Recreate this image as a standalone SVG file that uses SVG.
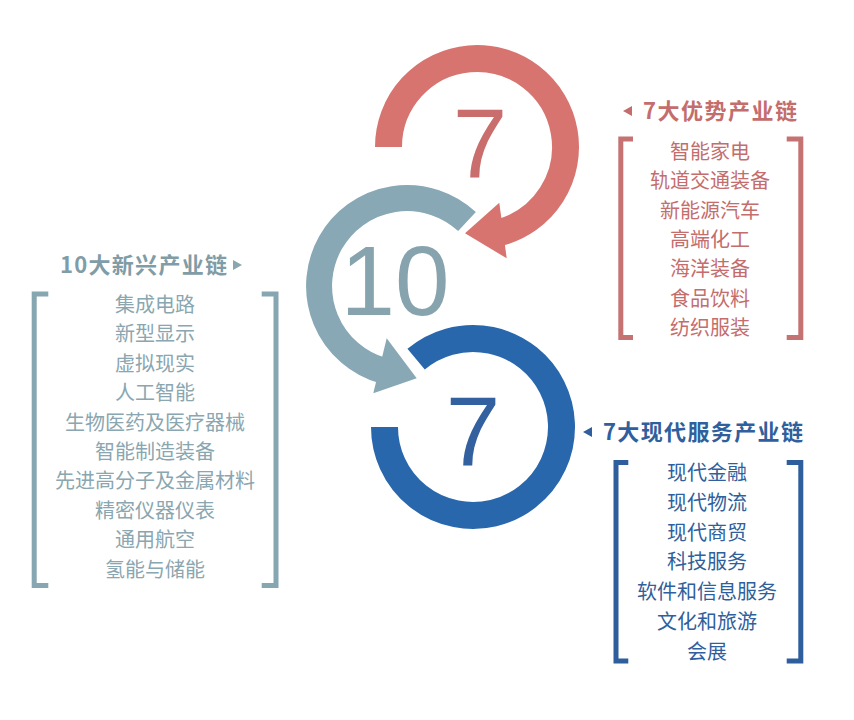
<svg xmlns="http://www.w3.org/2000/svg" width="854" height="720" viewBox="0 0 854 720">
<style>
.ring{fill:none;stroke-linecap:butt}
.big{font-family:"Liberation Sans",Arial,sans-serif;font-size:98px;text-anchor:middle}
.hdr{font-family:"Noto Sans CJK SC","Noto Sans",sans-serif;font-size:22px;font-weight:bold}
.item{font-family:"Noto Sans CJK SC","Noto Sans",sans-serif;font-size:20px;text-anchor:middle}
.br{fill:none;stroke-width:5;stroke-linecap:butt;stroke-linejoin:miter}
.red .ring{stroke:#d8746f}
.red .arrow{fill:#d8746f}
.red .big{fill:#c96e6c}
.red .hdr,.red .item,.red .tri{fill:#c46d6d}
.red .br{stroke:#c57372}
.teal .ring{stroke:#87a8b4}
.teal .arrow{fill:#87a8b4}
.teal .big{fill:#86a3ae}
.teal .hdr{fill:#7f9ca7}
.teal .item,.teal .tri{fill:#8aa6b0}
.teal .br{stroke:#86a6b1}
.blue .ring{stroke:#2967ad}
.blue .big{fill:#3361a0}
.blue .hdr,.blue .item,.blue .tri{fill:#2f5f9c}
.blue .br{stroke:#2e5f9c}
</style>
<rect width="854" height="720" fill="#ffffff"/>

<g id="ring-blue" class="blue">
  <path class="ring" stroke-width="27" d="M416.1,359.2 A88.5,88.5 0 1 1 384.5,427"/>
  <text class="big" x="473" y="465">7</text>
</g>

<g id="ring-teal" class="teal">
  <path class="ring" stroke-width="26" d="M467,221.6 A88,88 0 1 0 382.7,370.6"/>
  <text class="big" x="395" y="315">10</text>
</g>

<g id="ring-red" class="red">
  <path class="ring" stroke-width="27" d="M388.5,147 A88.5,88.5 0 1 1 499.9,232.5"/>
  <text class="big" x="480" y="177">7</text>
</g>

<g id="connectors">
  <polygon class="arrow" fill="#d8746f" points="465,233.3 499.3,202.7 506.7,258.3"/>
  <polygon class="arrow" fill="#87a8b4" points="416.7,378.3 386.7,338.3 373.3,393.3"/>
</g>

<g id="list-red" class="red">
  <polygon class="tri" points="623,111 632,106 632,116"/>
  <text class="hdr" x="643" y="119" textLength="154" lengthAdjust="spacing">7大优势产业链</text>
  <path class="br" d="M633,139 H620.8 V337.5 H633"/>
  <path class="br" d="M786.7,139 H800.8 V337.5 H786.7"/>
  <text class="item" x="710" y="159">智能家电</text>
  <text class="item" x="710" y="188.3">轨道交通装备</text>
  <text class="item" x="710" y="217.6">新能源汽车</text>
  <text class="item" x="710" y="246.9">高端化工</text>
  <text class="item" x="710" y="276.2">海洋装备</text>
  <text class="item" x="710" y="305.5">食品饮料</text>
  <text class="item" x="710" y="334.8">纺织服装</text>
</g>

<g id="list-teal" class="teal">
  <text class="hdr" x="60" y="273" textLength="167" lengthAdjust="spacing">10大新兴产业链</text>
  <polygon class="tri" points="233,260 242,265 233,270"/>
  <path class="br" d="M48.3,294 H34.2 V585.5 H48.3"/>
  <path class="br" d="M261.7,294 H276 V585.5 H261.7"/>
  <text class="item" x="155" y="312">集成电路</text>
  <text class="item" x="155" y="341.4">新型显示</text>
  <text class="item" x="155" y="370.8">虚拟现实</text>
  <text class="item" x="155" y="400.2">人工智能</text>
  <text class="item" x="155" y="429.6">生物医药及医疗器械</text>
  <text class="item" x="155" y="459">智能制造装备</text>
  <text class="item" x="155" y="488.4">先进高分子及金属材料</text>
  <text class="item" x="155" y="517.8">精密仪器仪表</text>
  <text class="item" x="155" y="547.2">通用航空</text>
  <text class="item" x="155" y="576.6">氢能与储能</text>
</g>

<g id="list-blue" class="blue">
  <polygon class="tri" points="583,432 592,427 592,437"/>
  <text class="hdr" x="603" y="440" textLength="200" lengthAdjust="spacing">7大现代服务产业链</text>
  <path class="br" d="M628.3,462.5 H616 V661 H628.3"/>
  <path class="br" d="M786.7,462.5 H800.8 V661 H786.7"/>
  <text class="item" x="707" y="480">现代金融</text>
  <text class="item" x="707" y="509.8">现代物流</text>
  <text class="item" x="707" y="539.6">现代商贸</text>
  <text class="item" x="707" y="569.4">科技服务</text>
  <text class="item" x="707" y="599.2">软件和信息服务</text>
  <text class="item" x="707" y="629">文化和旅游</text>
  <text class="item" x="707" y="658.8">会展</text>
</g>
</svg>
